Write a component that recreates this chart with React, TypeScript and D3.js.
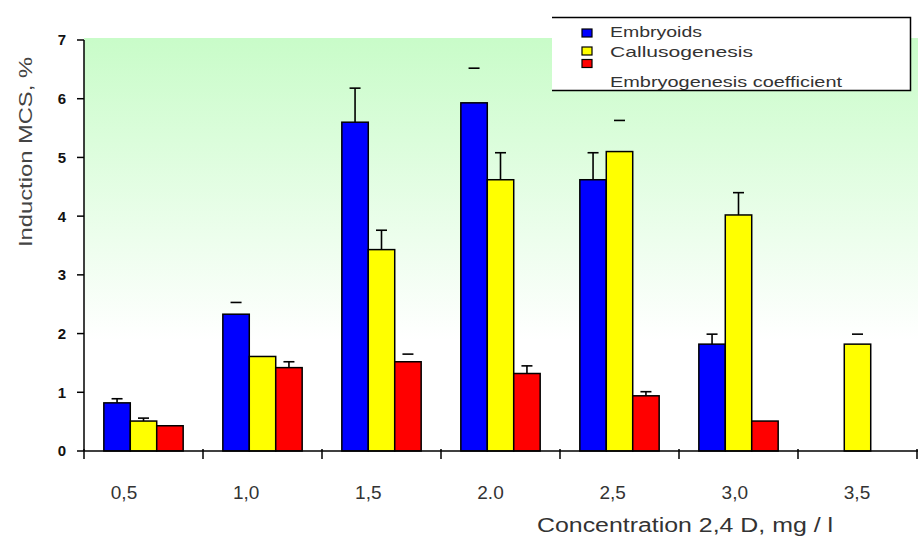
import React from 'react';
import * as d3 from 'd3';

// concentrations of 2,4-D (x categories)
const categories = ['0,5', '1,0', '1,5', '2.0', '2,5', '3,0', '3,5'];

// series values
const embryoids = [0.82, 2.33, 5.6, 5.93, 4.62, 1.82, 0];
const embryoidsErr = [0.07, 0.2, 0.58, 0.59, 0.46, 0.17, 0];
const callus = [0.51, 1.61, 3.43, 4.62, 5.1, 4.02, 1.82];
const callusErr = [0.05, 0, 0.33, 0.46, 0.53, 0.38, 0.17];
const coefficient = [0.43, 1.42, 1.52, 1.32, 0.94, 0.51, 0];
const coefficientErr = [0, 0.1, 0.13, 0.13, 0.07, 0, 0];

const yTicks = [0, 1, 2, 3, 4, 5, 6, 7];

const seriesNames = ['Embryoids', 'Callusogenesis', 'Embryogenesis coefficient'];
const seriesColors = ['#0000ff', '#ffff00', '#ff0000'];

// error bars whose stem is not drawn in the original (only the cap shows)
const floatingCaps = new Set(['0|1,0', '0|2.0', '2|1,5', '1|2,5', '1|3,5']);

const W = 923;
const H = 543;
const left = 84;
const right = 917;
const top = 40;
const bottom = 451;

export default function App() {
  const series = [
    { values: embryoids, err: embryoidsErr },
    { values: callus, err: callusErr },
    { values: coefficient, err: coefficientErr },
  ];

  const x0 = d3.scaleBand<string>().domain(categories).range([left, right]);
  const x1 = d3
    .scaleBand<number>()
    .domain([0, 1, 2])
    .range([0, x0.bandwidth()])
    .paddingOuter(0.75);
  const y = d3.scaleLinear().domain([0, 7]).range([bottom, top]);
  // the category labels sit a little off the band centres in the original
  const xLabel = d3.scalePoint<string>().domain(categories).range([124, 857]);

  const bars: React.ReactNode[] = [];
  const errs: React.ReactNode[] = [];
  series.forEach((s, si) => {
    categories.forEach((c, ci) => {
      const v = s.values[ci];
      if (!v) return;
      const bx = (x0(c) as number) + (x1(si) as number);
      const bw = x1.bandwidth();
      bars.push(
        <rect
          key={`b${si}-${ci}`}
          x={bx}
          y={y(v)}
          width={bw}
          height={y(0) - y(v)}
          fill={seriesColors[si]}
          stroke="#000"
          strokeWidth={1.5}
        />
      );
      const e = s.err[ci];
      if (e) {
        const cx = bx + bw / 2;
        const yt = y(v + e);
        errs.push(
          <g key={`e${si}-${ci}`} stroke="#000" strokeWidth={1.6}>
            {!floatingCaps.has(`${si}|${c}`) && (
              <line x1={cx} x2={cx} y1={y(v)} y2={yt} />
            )}
            <line x1={cx - 5.5} x2={cx + 5.5} y1={yt} y2={yt} />
          </g>
        );
      }
    });
  });

  const legendRows = [
    { sy: 29, ty: 36.5, len: 92 },
    { sy: 47, ty: 56.5, len: 143 },
    { sy: 59.5, ty: 87, len: 232 },
  ];

  return (
    <svg
      width={W}
      height={H}
      style={{ position: 'absolute', left: 0, top: 0, fontFamily: 'Liberation Sans, Arial, sans-serif' }}
    >
      <defs>
        <linearGradient id="bg" gradientUnits="userSpaceOnUse" x1={0} y1={top} x2={0} y2={340}>
          <stop offset="0" stopColor="#c9fcc9" />
          <stop offset="1" stopColor="#ffffff" />
        </linearGradient>
      </defs>
      <rect width={W} height={H} fill="#fff" />
      <rect x={left} y={top - 2} width={right + 1 - left} height={bottom - top + 2} fill="url(#bg)" />

      {/* legend */}
      <rect x={552} y={17} width={358} height={73} fill="#fff" />
      <path d="M552,17.5H910.5V90.5H552" fill="none" stroke="#000" strokeWidth={1.5} />
      {seriesNames.map((n, i) => (
        <g key={n}>
          <rect
            x={582}
            y={legendRows[i].sy}
            width={10}
            height={8}
            fill={seriesColors[i]}
            stroke="#000"
            strokeWidth={1.2}
          />
          <text
            x={610}
            y={legendRows[i].ty}
            fontSize={15}
            fill="#333"
            textLength={legendRows[i].len}
            lengthAdjust="spacingAndGlyphs"
          >
            {n}
          </text>
        </g>
      ))}

      {bars}
      {errs}

      {/* y axis */}
      <line x1={left} x2={left} y1={top} y2={bottom} stroke="#000" strokeWidth={1.5} />
      {yTicks.map((t) => (
        <g key={t}>
          <line x1={left - 7} x2={left} y1={y(t)} y2={y(t)} stroke="#000" strokeWidth={1.5} />
          <text x={66} y={y(t)} dy="0.36em" textAnchor="end" fontSize={15} fontWeight="bold" fill="#111">
            {t}
          </text>
        </g>
      ))}
      <text
        transform="translate(25.5,152) rotate(-90)"
        textAnchor="middle"
        dy="0.36em"
        fontSize={18}
        fill="#444"
        textLength={190}
        lengthAdjust="spacingAndGlyphs"
      >
        Induction MCS, %
      </text>

      {/* x axis */}
      <line x1={left} x2={right + 1} y1={bottom} y2={bottom} stroke="#000" strokeWidth={1.5} />
      {[...categories.map((c) => x0(c) as number), right].map((bx, i) => (
        <line key={i} x1={bx} x2={bx} y1={bottom - 2} y2={bottom + 8} stroke="#000" strokeWidth={1.5} />
      ))}
      {categories.map((c) => (
        <text key={c} x={xLabel(c)} y={499} textAnchor="middle" fontSize={19} fill="#333">
          {c}
        </text>
      ))}
      <text x={537} y={532} fontSize={20} fill="#333" textLength={296} lengthAdjust="spacingAndGlyphs">
        Concentration 2,4 D, mg / l
      </text>
    </svg>
  );
}
